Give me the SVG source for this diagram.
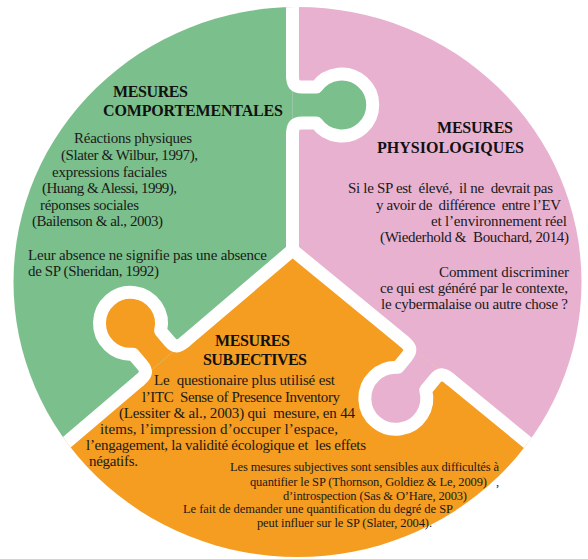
<svg xmlns="http://www.w3.org/2000/svg" xmlns:xlink="http://www.w3.org/1999/xlink" width="588" height="559" viewBox="0 0 588 559">
<style>
text{white-space:pre}
.t{font-family:"Liberation Serif","Times New Roman",serif;font-size:15px;fill:#1a1a1a}
.h{font-family:"Liberation Serif","Times New Roman",serif;font-size:16px;font-weight:bold;fill:#111}
.s{font-family:"Liberation Serif","Times New Roman",serif;font-size:12.5px;fill:#1a1a1a}
.div{fill:none;stroke:#fff;stroke-width:13;stroke-linecap:round;stroke-linejoin:round}
</style>
<defs>
<clipPath id="circ"><ellipse cx="297.5" cy="282" rx="284" ry="275"/></clipPath>
<path id="knobFill" d="M-30,0 C-21,0 -18,2 -18,10 L-18,24 A31,31 0 1 0 18,24 L18,10 C18,2 21,0 30,0 Z"/>
<path id="knobLine" d="M-30,0 C-21,0 -18,2 -18,10 L-18,24 A31,31 0 1 0 18,24 L18,10 C18,2 21,0 30,0"/>
<mask id="cutOrangeKnob" maskUnits="userSpaceOnUse" x="-50" y="-50" width="700" height="700">
<rect x="-50" y="-50" width="700" height="700" fill="#fff"/>
<use xlink:href="#knobFill" href="#knobFill" transform="translate(162.4,360.8) rotate(139.6)" fill="#000"/>
</mask>
</defs>
<g clip-path="url(#circ)">
<g id="piece-subjectives">
<polygon points="292.5,250 -20,516.1 -20,600 620,600 620,518.3" fill="#f59d20"/>
<use xlink:href="#knobFill" href="#knobFill" transform="translate(162.4,360.8) rotate(139.6)" fill="#f59d20"/>
</g>
<g id="piece-physiologiques">
<polygon points="292.5,250 292.5,-20 620,-20 620,518.3" fill="#e9b1d0"/>
<use xlink:href="#knobFill" href="#knobFill" transform="translate(427,360.2) rotate(39.3)" fill="#e9b1d0"/>
</g>
<g id="piece-comportementales">
<polygon points="292.5,250 292.5,-20 -20,-20 -20,516.1" fill="#7bc08c" mask="url(#cutOrangeKnob)"/>
<use xlink:href="#knobFill" href="#knobFill" transform="translate(292.5,105) rotate(-90)" fill="#7bc08c"/>
</g>
<g id="connectors">
<path class="div" d="M292.5,-20 L292.5,75 M292.5,135 L292.5,250 L185.2,341.4 M139.6,380.2 L-27.1,522.2 M292.5,250 L403.8,341.2 M450.2,379.2 L617.4,516.2"/>
<use xlink:href="#knobLine" href="#knobLine" class="div" transform="translate(292.5,105) rotate(-90)"/>
<use xlink:href="#knobLine" href="#knobLine" class="div" transform="translate(162.4,360.8) rotate(139.6)"/>
<use xlink:href="#knobLine" href="#knobLine" class="div" transform="translate(427,360.2) rotate(39.3)"/>
</g>
</g>
<g id="text-comportementales">
<text class="h" x="113" y="97" textLength="75">MESURES</text>
<text class="h" x="103" y="115.5" textLength="180">COMPORTEMENTALES</text>
<text class="t" x="74" y="143" textLength="118">Réactions physiques</text>
<text class="t" x="61" y="160" textLength="137">(Slater &amp; Wilbur, 1997),</text>
<text class="t" x="52" y="176.5" textLength="115">expressions faciales</text>
<text class="t" x="42" y="193" textLength="135">(Huang &amp; Alessi, 1999),</text>
<text class="t" x="40" y="210" textLength="99">réponses sociales</text>
<text class="t" x="32" y="226" textLength="131">(Bailenson &amp; al., 2003)</text>
<text class="t" x="28" y="259.5" textLength="239">Leur absence ne signifie pas une absence</text>
<text class="t" x="28" y="276" textLength="131">de SP (Sheridan, 1992)</text>
</g>
<g id="text-physiologiques">
<text class="h" x="437" y="132.5" textLength="76">MESURES</text>
<text class="h" x="377" y="152.5" textLength="147">PHYSIOLOGIQUES</text>
<text class="t" xml:space="preserve" x="348" y="192.5" textLength="205">Si le SP est  élevé,  il ne  devrait pas</text>
<text class="t" xml:space="preserve" x="376" y="209.5" textLength="185">y avoir de  différence  entre l’EV</text>
<text class="t" x="431" y="226" textLength="136">et l’environnement réel</text>
<text class="t" xml:space="preserve" x="380" y="242" textLength="189">(Wiederhold &amp;  Bouchard, 2014)</text>
<text class="t" x="439" y="276.5" textLength="130">Comment discriminer</text>
<text class="t" x="380" y="292.5" textLength="188">ce qui est généré par le contexte,</text>
<text class="t" x="381" y="308.5" textLength="187">le cybermalaise ou autre chose ?</text>
</g>
<g id="text-subjectives">
<text class="h" x="215" y="345.5" textLength="75">MESURES</text>
<text class="h" x="203" y="365" textLength="104">SUBJECTIVES</text>
<text class="t" xml:space="preserve" x="154" y="385" textLength="181">Le  questionaire plus utilisé est</text>
<text class="t" xml:space="preserve" x="142" y="401.5" textLength="198">l’ITC  Sense of Presence Inventory</text>
<text class="t" xml:space="preserve" x="119" y="418" textLength="236">(Lessiter &amp; al., 2003) qui  mesure, en 44</text>
<text class="t" x="100" y="434" textLength="238">items, l’impression d’occuper l’espace,</text>
<text class="t" xml:space="preserve" x="86" y="450" textLength="280">l’engagement, la validité écologique et  les effets</text>
<text class="t" x="89" y="466" textLength="49">négatifs.</text>
<text class="s" x="230" y="470.5" textLength="269">Les mesures subjectives sont sensibles aux difficultés à</text>
<text class="s" x="250" y="486" textLength="237">quantifier le SP (Thornson, Goldiez &amp; Le, 2009)</text>
<text class="s" x="496" y="486">,</text>
<text class="s" x="283" y="499.5" textLength="184">d’introspection (Sas &amp; O’Hare, 2003)</text>
<text class="s" x="183" y="513" textLength="270">Le fait de demander une quantification du degré de SP</text>
<text class="s" x="257" y="526.5" textLength="175">peut influer sur le SP (Slater, 2004).</text>
</g>
</svg>
